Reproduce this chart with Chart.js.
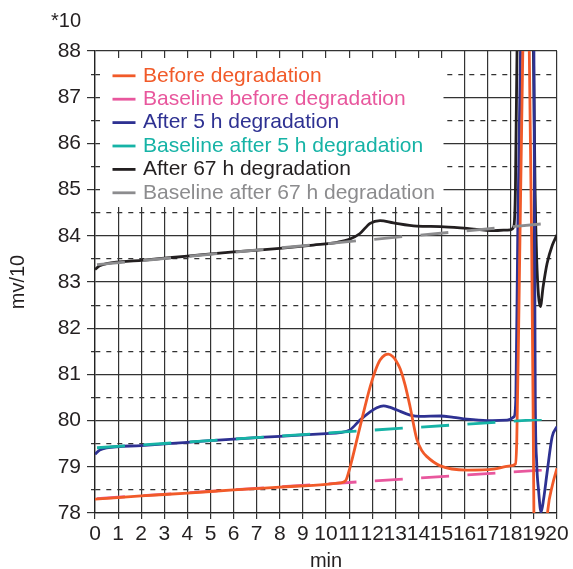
<!DOCTYPE html>
<html>
<head>
<meta charset="utf-8">
<title>mv/10 vs min</title>
<script src="https://cdn.jsdelivr.net/npm/chart.js@4.4.0/dist/chart.umd.min.js"></script>
<style>
  html, body { margin: 0; padding: 0; background: #fff; }
  canvas { display: block; }
</style>
</head>
<body>
<canvas id="trace" width="573" height="569"></canvas>
<script>
const FONT = "'Liberation Sans', Arial, sans-serif";
const GRID = '#333';
const INK = '#231f20';

const seriesNames = [
  'Before degradation',
  'Baseline before degradation',
  'After 5 h degradation',
  'Baseline after 5 h degradation',
  'After 67 h degradation',
  'Baseline after 67 h degradation'
];
const seriesColors = ['#f15a29', '#e8579d', '#2e3192', '#16b3a6', '#231f20', '#8c8c8e'];

const xTickLabels = ['0', '1', '2', '3', '4', '5', '6', '7', '8', '9', '10',
  '11', '12', '13', '14', '15', '16', '17', '18', '19', '20'];
const yTickLabels = ['78', '79', '80', '81', '82', '83', '84', '85', '86', '87', '88'];

// before degradation
const beforeX = [0, 2, 4, 6, 8, 10, 10.6, 10.85, 11.04, 11.47, 11.91, 12.15, 12.34, 12.55, 12.7,
  12.9, 13.05, 13.21, 13.42, 13.64, 13.93, 14.15, 14.37, 14.95, 16.1, 17.25, 17.98, 18.2,
  18.26, 18.34, 18.52, 18.66, 18.8, 18.9, 18.97, 19.0, 19.1, 19.35, 19.5, 19.6, 19.8, 20];
const beforeY = [78.3, 78.37, 78.43, 78.5, 78.56, 78.62, 78.65, 78.7, 78.99, 79.86, 80.73, 81.1, 81.31, 81.42, 81.44,
  81.38, 81.28, 81.12, 80.78, 80.3, 79.6, 79.35, 79.22, 79.02, 78.93, 78.95, 79.02, 79.06,
  79.6, 82, 88, 90.5, 88, 84, 80, 78, 76.5, 76, 77.3, 78.05, 78.6, 78.97];
const baseBeforeX = [0, 19.43];
const baseBeforeY = [78.31, 78.93];

// after 5 h
const after5X = [0, 0.2, 0.5, 2, 4, 6, 8, 10, 10.6, 11.04, 11.47, 11.91, 12.2, 12.49, 12.75, 13.07,
  13.64, 14.08, 14.95, 15.52, 16.1, 16.97, 17.84, 18.13, 18.22, 18.3, 18.42, 18.7, 19.0,
  19.03, 19.06, 19.12, 19.2, 19.31, 19.42, 19.57, 19.79, 20];
const after5Y = [79.27, 79.36, 79.41, 79.46, 79.53, 79.6, 79.66, 79.72, 79.74, 79.8, 80.01, 80.19, 80.28, 80.32, 80.29, 80.23,
  80.12, 80.09, 80.1, 80.07, 80.03, 80.0, 80.01, 80.08, 80.5, 84, 88, 91, 88,
  84, 80.5, 79.1, 78.5, 78.02, 78.3, 78.87, 79.65, 79.87];
const base5X = [0, 19.43];
const base5Y = [79.41, 80.03];

// after 67 h
const after67X = [0, 0.2, 0.5, 2, 4, 6, 8, 9.45, 10.5, 11.04, 11.47, 11.91, 12.34, 12.92, 13.93,
  14.95, 16.1, 17.26, 17.98, 18.13, 18.2, 18.27, 18.6, 18.98, 19.05, 19.12, 19.2, 19.28,
  19.4, 19.57, 19.8, 20];
const after67Y = [83.27, 83.35, 83.4, 83.47, 83.56, 83.65, 83.73, 83.8, 83.86, 83.93, 84.05, 84.27, 84.33, 84.28, 84.21,
  84.2, 84.16, 84.11, 84.13, 84.2, 85, 88, 91, 88, 85, 83.5, 82.7, 82.47,
  82.9, 83.4, 83.8, 84.02];
const base67X = [0, 19.4];
const base67Y = [83.37, 84.26];

const pts = (xs, ys) => xs.map((x, i) => ({ x, y: ys[i] }));
const isHalf = v => v != null && !Number.isInteger(v);

function series(i, xs, ys, dashed, order) {
  return {
    label: seriesNames[i],
    data: pts(xs, ys),
    borderColor: seriesColors[i],
    borderWidth: 2.8,
    pointRadius: 0,
    cubicInterpolationMode: 'monotone',
    borderDash: dashed ? [28, 18.4] : [],
    borderDashOffset: dashed ? 44.4 : 0,
    order
  };
}

// legend panel sits on top of the grid in the upper left corner
const legendPanel = {
  id: 'legendPanel',
  beforeDatasetsDraw(chart) {
    const { ctx, chartArea: a } = chart;
    ctx.save();
    ctx.fillStyle = '#fff';
    ctx.fillRect(a.left + 5, a.top + 7, 343.5, 149);
    ctx.font = '21px ' + FONT;
    ctx.textBaseline = 'middle';
    ctx.textAlign = 'left';
    seriesNames.forEach((name, i) => {
      const y = a.top + 24.8 + i * 23.4;
      ctx.strokeStyle = seriesColors[i];
      ctx.lineWidth = 2.8;
      ctx.beginPath();
      ctx.moveTo(a.left + 17.5, y);
      ctx.lineTo(a.left + 40.5, y);
      ctx.stroke();
      ctx.fillStyle = seriesColors[i];
      ctx.fillText(name, a.left + 48, y);
    });
    ctx.font = '20px ' + FONT;
    ctx.fillStyle = INK;
    ctx.fillText('*10', 51, 21);
    ctx.restore();
  }
};

new Chart(document.getElementById('trace'), {
  type: 'line',
  data: {
    datasets: [
      series(0, beforeX, beforeY, false, 2),
      series(1, baseBeforeX, baseBeforeY, true, 5),
      series(2, after5X, after5Y, false, 3),
      series(3, base5X, base5Y, true, 1),
      series(4, after67X, after67Y, false, 4),
      series(5, base67X, base67Y, true, 0)
    ]
  },
  options: {
    responsive: false,
    animation: false,
    layout: { padding: { top: 51, right: 16, bottom: 0, left: 0 } },
    plugins: { legend: { display: false }, tooltip: { enabled: false } },
    scales: {
      x: {
        type: 'linear',
        min: 0,
        max: 20,
        ticks: {
          stepSize: 1,
          autoSkip: false,
          maxRotation: 0,
          padding: 3,
          color: INK,
          font: { family: FONT, size: 21 },
          callback: v => xTickLabels[v]
        },
        grid: { color: GRID, lineWidth: 1.2, tickLength: 6, tickColor: GRID },
        border: { color: '#222', width: 1.3 },
        title: {
          display: true,
          text: 'min',
          color: INK,
          font: { family: FONT, size: 20, lineHeight: 0.77 },
          padding: 0
        },
        afterFit: s => { s.height = 56; }
      },
      y: {
        type: 'linear',
        min: 78,
        max: 88,
        ticks: {
          stepSize: 0.5,
          autoSkip: false,
          padding: 6,
          color: INK,
          font: { family: FONT, size: 21 },
          callback: v => Number.isInteger(v) ? yTickLabels[v - 78] : ''
        },
        grid: {
          color: GRID,
          lineWidth: 1.2,
          tickLength: 8,
          tickColor: GRID,
          tickBorderDash: c => isHalf(c.tick && c.tick.value) ? [0, 4, 4, 0] : []
        },
        border: {
          color: '#222',
          width: 1.3,
          dash: c => isHalf(c.tick && c.tick.value) ? [5, 6] : []
        },
        title: {
          display: true,
          text: 'mv/10',
          color: INK,
          font: { family: FONT, size: 20 },
          padding: { top: 6, bottom: 0 }
        },
        afterFit: s => { s.width = 95; }
      }
    }
  },
  plugins: [legendPanel]
});
</script>
</body>
</html>
